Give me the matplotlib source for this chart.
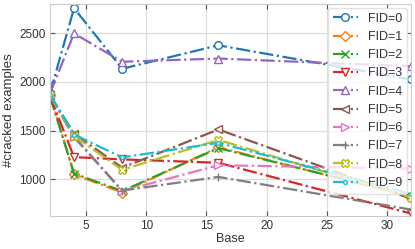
import matplotlib
matplotlib.use("Agg")
import matplotlib.pyplot as plt

plt.rcParams['font.family'] = ['Liberation Sans', 'DejaVu Sans']

bases = [2, 4, 8, 16, 32]
labels = ["FID=0", "FID=1", "FID=2", "FID=3", "FID=4",
          "FID=5", "FID=6", "FID=7", "FID=8", "FID=9"]
fid0 = [1885, 2757, 2135, 2376, 2025]
fid1 = [1870, 1050, 865, 1330, 820]
fid2 = [1850, 1060, 880, 1320, 830]
fid3 = [1855, 1228, 1205, 1170, 650]
fid4 = [1880, 2498, 2207, 2240, 2160]
fid5 = [1865, 1470, 1120, 1512, 800]
fid6 = [1860, 1430, 880, 1145, 1110]
fid7 = [1860, 1440, 885, 1025, 690]
fid8 = [1865, 1445, 1098, 1405, 812]
fid9 = [1870, 1460, 1225, 1375, 850]
series = [fid0, fid1, fid2, fid3, fid4, fid5, fid6, fid7, fid8, fid9]
markers = ['o', 'D', 'x', 'v', '^', '<', '>', '+', 'X', '.']
colors = ['#1f77b4', '#ff7f0e', '#2ca02c', '#d62728', '#9467bd',
          '#8c564b', '#e377c2', '#7f7f7f', '#bcbd22', '#17becf']

fig = plt.figure(figsize=(4.15, 2.49), dpi=100)
ax = fig.add_axes([0.1205, 0.133, 0.8695, 0.851])

for vals, lab, m, c in zip(series, labels, markers, colors):
    ax.plot(bases, vals, linestyle='-.', marker=m, color=c, label=lab,
            markerfacecolor='white', markersize=5.5, linewidth=1.6,
            markeredgewidth=1.0)

ax.set_xlim(2, 32)
ax.set_ylim(625, 2800)
ax.set_xticks([5, 10, 15, 20, 25, 30])
ax.set_yticks([1000, 1500, 2000, 2500])
ax.grid(True, color='#dddddd', linewidth=0.9)
ax.set_axisbelow(True)
for s in ax.spines.values():
    s.set_color('#cccccc')
ax.tick_params(direction='in', top=True, right=True, length=3.5,
               color='#555555', labelsize=8.5, labelcolor='#333333', pad=3)
ax.set_xlabel("Base", fontsize=9, color='#333333', labelpad=1)
ax.set_ylabel("#cracked examples", fontsize=9.5, color='#333333', labelpad=3)
leg = ax.legend(loc='upper right', fontsize=9, frameon=True,
                framealpha=0.8, edgecolor='#dddddd', borderaxespad=0.3)
for t in leg.get_texts():
    t.set_color('#333333')

fig.savefig("out.png", dpi=100)
